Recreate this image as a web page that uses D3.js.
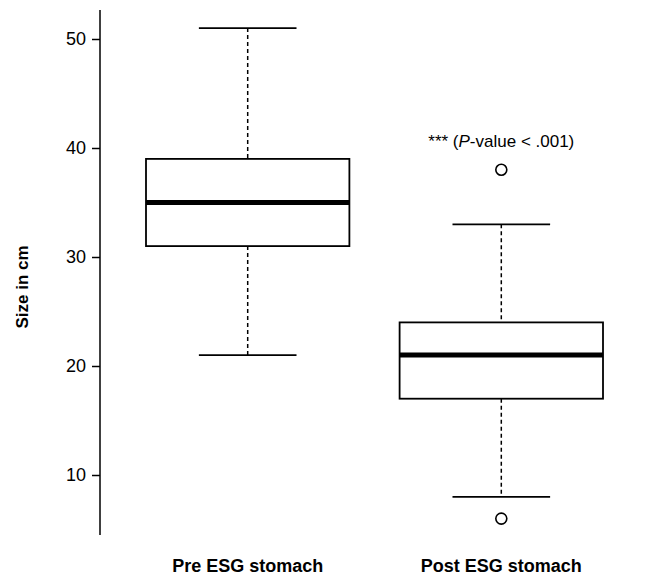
<!DOCTYPE html>
<html><head><meta charset="utf-8">
<script src="https://cdn.jsdelivr.net/npm/d3@7"></script>
<style>body{margin:0;background:#fff}</style>
</head><body><div id="chart"></div>
<script>
const groups = ["Pre ESG stomach", "Post ESG stomach"];
const lowWhisker = [21, 8];
const q1 = [31, 17];
const medians = [35, 21];
const q3 = [39, 24];
const highWhisker = [51, 33];
const outliers = [[], [38, 6]];
const yTicks = [10, 20, 30, 40, 50];

const width = 650, height = 576;
const svg = d3.select("#chart").append("svg").attr("width", width).attr("height", height)
  .style("font-family", "'Liberation Sans', Arial, sans-serif");

const y = d3.scaleLinear().domain([50, 10]).range([39, 475]);
const x = d3.scaleBand().domain(groups).range([146, 603]).paddingInner(0.198).paddingOuter(0);

const axis = svg.append("g").attr("transform", "translate(100,0)")
  .call(d3.axisLeft(y).tickValues(yTicks).tickSize(8).tickPadding(6));
axis.select(".domain").attr("d", "M0,10V535").attr("stroke-width", 1.5);
axis.selectAll(".tick line").attr("stroke-width", 1.5);
axis.selectAll("text").attr("font-size", 18).attr("fill", "#000");

svg.append("text").attr("transform", "translate(28,287) rotate(-90)")
  .attr("text-anchor", "middle").attr("font-size", 17).attr("font-weight", "bold").text("Size in cm");

groups.forEach((g, i) => {
  const bx = x(g), bw = x.bandwidth(), cx = bx + bw / 2, cw = bw * 0.24;
  const gg = svg.append("g").attr("stroke", "#000").attr("fill", "none");
  gg.append("line").attr("x1", cx).attr("x2", cx).attr("y1", y(highWhisker[i])).attr("y2", y(q3[i]))
    .attr("stroke-width", 1.5).attr("stroke-dasharray", "4,3");
  gg.append("line").attr("x1", cx).attr("x2", cx).attr("y1", y(q1[i])).attr("y2", y(lowWhisker[i]))
    .attr("stroke-width", 1.5).attr("stroke-dasharray", "4,3");
  [highWhisker[i], lowWhisker[i]].forEach(v =>
    gg.append("line").attr("x1", cx - cw).attr("x2", cx + cw).attr("y1", y(v)).attr("y2", y(v)).attr("stroke-width", 1.8));
  gg.append("rect").attr("x", bx).attr("width", bw).attr("y", y(q3[i])).attr("height", y(q1[i]) - y(q3[i]))
    .attr("fill", "#fff").attr("stroke-width", 1.8);
  gg.append("line").attr("x1", bx).attr("x2", bx + bw).attr("y1", y(medians[i])).attr("y2", y(medians[i])).attr("stroke-width", 5);
  outliers[i].forEach(v => gg.append("circle").attr("cx", cx).attr("cy", y(v)).attr("r", 5.5).attr("stroke-width", 1.6));
  svg.append("text").attr("x", cx).attr("y", 572).attr("text-anchor", "middle")
    .attr("font-size", 18).attr("font-weight", "bold").text(g);
});

const ann = svg.append("text").attr("x", x(groups[1]) + x.bandwidth() / 2).attr("y", 147)
  .attr("text-anchor", "middle").attr("font-size", 17);
ann.append("tspan").text("*** (");
ann.append("tspan").attr("font-style", "italic").text("P");
ann.append("tspan").text("-value < .001)");
</script></body></html>
